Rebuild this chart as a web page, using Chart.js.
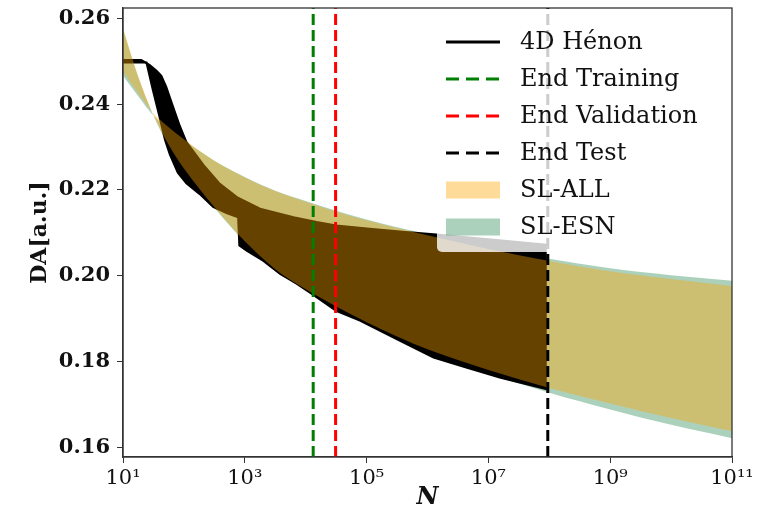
<!DOCTYPE html>
<html>
<head>
<meta charset="utf-8">
<title>DA vs N</title>
<script src="https://cdn.jsdelivr.net/npm/chart.js@4.4.1/dist/chart.umd.min.js"></script>
<style>
  body { margin: 0; background: #fff; }
  canvas { display: block; }
</style>
</head>
<body>
<canvas id="daChart" width="772" height="519"></canvas>
<script>
// x positions are kept as log10(N)
const xTickExps = [1, 3, 5, 7, 9, 11];
const xTickLabels = ['10¹', '10³', '10⁵', '10⁷', '10⁹', '10¹¹'];
const yTicks = [0.16, 0.18, 0.20, 0.22, 0.24, 0.26];
const yLimits = [0.1577, 0.2624];

// 4D Henon: bundle of black curves, kept as its top and bottom envelope
const henonTopExp = [1.0, 1.30, 1.44, 1.55, 1.63, 1.71, 1.82, 1.93, 2.04, 2.32, 2.59, 2.87, 3.25, 3.80, 4.18, 4.50, 5.05, 5.59, 6.15, 7.0, 7.96];
const henonTopDA = [0.2503, 0.2503, 0.2491, 0.2478, 0.2466, 0.2440, 0.2395, 0.2350, 0.2312, 0.2258, 0.2214, 0.2183, 0.2156, 0.2136, 0.2125, 0.2117, 0.2109, 0.2102, 0.2096, 0.2085, 0.2072];
const henonLowExp = [1.0, 1.385, 1.49, 1.60, 1.69, 1.77, 1.90, 2.04, 2.26, 2.48, 2.70, 2.89, 2.91, 3.03, 3.30, 3.58, 3.85, 4.125, 4.50, 4.89, 5.55, 6.10, 6.65, 7.20, 7.96];
const henonLowDA = [0.2497, 0.2497, 0.2433, 0.2370, 0.2316, 0.2282, 0.2240, 0.2215, 0.2190, 0.2160, 0.2146, 0.2136, 0.2070, 0.2058, 0.2035, 0.2004, 0.1981, 0.1955, 0.1918, 0.1895, 0.1848, 0.1809, 0.1785, 0.1762, 0.1735];

// SL bands: two edges each, the edges cross near N = 10^1.5
const bandExp = [1.0, 1.25, 1.5, 1.75, 2.0, 2.5, 3.0, 3.5, 4.0, 4.5, 5.0, 5.5, 6.0, 7.0, 8.0, 9.0, 10.0, 11.0];
const allEdgeA = [0.2577, 0.2465, 0.2375, 0.2305, 0.2250, 0.2160, 0.2080, 0.2015, 0.1968, 0.1928, 0.1891, 0.1858, 0.1828, 0.1780, 0.1738, 0.1702, 0.1668, 0.1637];
const allEdgeB = [0.2476, 0.2425, 0.2378, 0.2346, 0.2318, 0.2268, 0.2229, 0.2197, 0.2172, 0.2149, 0.2129, 0.2111, 0.2094, 0.2062, 0.2034, 0.2010, 0.1992, 0.1976];
const esnEdgeA = [0.2574, 0.2463, 0.2373, 0.2303, 0.2248, 0.2158, 0.2078, 0.2013, 0.1966, 0.1926, 0.1888, 0.1854, 0.1823, 0.1772, 0.1727, 0.1688, 0.1652, 0.1621];
const esnEdgeB = [0.2466, 0.2418, 0.2373, 0.2343, 0.2316, 0.2268, 0.2230, 0.2198, 0.2174, 0.2151, 0.2131, 0.2113, 0.2097, 0.2066, 0.2039, 0.2017, 0.2001, 0.1988];

// end of training / validation / test, log10(N)
const splitLabels = ['End Training', 'End Validation', 'End Test'];
const splitExps = [4.123, 4.491, 7.975];
const splitColors = ['#008000', '#ff0000', '#000000'];

const legendOrder = ['4D Hénon', 'End Training', 'End Validation', 'End Test', 'SL-ALL', 'SL-ESN'];

const ALL_COLOR = 'rgba(255, 165, 0, 0.4)';
const ESN_COLOR = 'rgba(46, 139, 87, 0.4)';

function pts(exps, vals) {
    return exps.map((e, i) => ({ x: Math.pow(10, e), y: vals[i] }));
}

const splitSets = splitExps.map((e, i) => ({
    label: splitLabels[i],
    data: pts([e, e], yLimits),
    borderColor: splitColors[i],
    borderWidth: 3,
    borderDash: [11, 5],
    pointRadius: 0,
    fill: false
}));

const datasets = [
    ...splitSets,
    {
        label: 'SL-ALL',
        data: pts(bandExp, allEdgeB),
        borderWidth: 0,
        borderColor: 'rgba(0,0,0,0)',
        backgroundColor: ALL_COLOR,
        pointRadius: 0,
        cubicInterpolationMode: 'monotone',
        fill: '+1'
    },
    {
        data: pts(bandExp, allEdgeA),
        borderWidth: 0,
        borderColor: 'rgba(0,0,0,0)',
        pointRadius: 0,
        cubicInterpolationMode: 'monotone',
        fill: false
    },
    {
        label: '4D Hénon',
        data: pts(henonTopExp, henonTopDA),
        borderColor: '#000',
        borderWidth: 2,
        backgroundColor: '#000',
        pointRadius: 0,
        fill: '+1'
    },
    {
        data: pts(henonLowExp, henonLowDA),
        borderColor: '#000',
        borderWidth: 2,
        pointRadius: 0,
        fill: false
    },
    {
        label: 'SL-ESN',
        data: pts(bandExp, esnEdgeB),
        borderWidth: 0,
        borderColor: 'rgba(0,0,0,0)',
        backgroundColor: ESN_COLOR,
        pointRadius: 0,
        cubicInterpolationMode: 'monotone',
        fill: '+1'
    },
    {
        data: pts(bandExp, esnEdgeA),
        borderWidth: 0,
        borderColor: 'rgba(0,0,0,0)',
        pointRadius: 0,
        cubicInterpolationMode: 'monotone',
        fill: false
    }
];

// box around the plot area
const frame = {
    id: 'frame',
    afterDatasetsDraw(chart) {
        const a = chart.chartArea;
        const ctx = chart.ctx;
        ctx.save();
        ctx.strokeStyle = '#333';
        ctx.lineWidth = 1.3;
        ctx.strokeRect(a.left, a.top, a.right - a.left, a.bottom - a.top);
        ctx.restore();
    }
};

// legend drawn inside the plot, upper right, like matplotlib
const insideLegend = {
    id: 'insideLegend',
    afterDraw(chart) {
        const ctx = chart.ctx;
        const a = chart.chartArea;
        const x0 = a.left + 314;
        const y0 = a.top + 5;
        ctx.save();
        ctx.fillStyle = 'rgba(255, 255, 255, 0.8)';
        ctx.beginPath();
        ctx.roundRect(x0, y0, 282, 239, 5);
        ctx.fill();
        ctx.font = '24px "DejaVu Serif"';
        ctx.textBaseline = 'middle';
        ctx.fillStyle = '#111';
        legendOrder.forEach((name, i) => {
            const ds = chart.data.datasets.find(d => d.label === name);
            const y = y0 + 29 + i * 37;
            const hx = x0 + 9;
            if (ds.fill === '+1' && ds.borderWidth === 0) {
                ctx.fillStyle = ds.backgroundColor;
                ctx.fillRect(hx, y - 8.5, 54, 17);
            } else {
                ctx.strokeStyle = ds.borderColor;
                ctx.lineWidth = 3;
                ctx.setLineDash(ds.borderDash ? [13, 7] : []);
                ctx.beginPath();
                ctx.moveTo(hx, y);
                ctx.lineTo(hx + 54, y);
                ctx.stroke();
                ctx.setLineDash([]);
            }
            ctx.fillStyle = '#111';
            ctx.fillText(name, x0 + 83, y + 1);
        });
        ctx.restore();
    }
};

const ctx = document.getElementById('daChart').getContext('2d');
new Chart(ctx, {
    type: 'line',
    data: { datasets: datasets },
    options: {
        responsive: false,
        animation: false,
        events: [],
        layout: { padding: { left: 0, right: 40, top: 8, bottom: 0 } },
        plugins: {
            legend: { display: false },
            tooltip: { enabled: false }
        },
        scales: {
            x: {
                type: 'logarithmic',
                min: 10,
                max: 1e11,
                afterBuildTicks: axis => {
                    axis.ticks = xTickExps.map(e => ({ value: Math.pow(10, e) }));
                },
                afterFit: axis => {
                    axis.height = 62;
                    axis.paddingLeft = 0;
                    axis.paddingRight = 0;
                },
                grid: { drawOnChartArea: false, tickLength: 6, tickColor: '#333' },
                border: { color: '#333', width: 1.3 },
                ticks: {
                    autoSkip: false,
                    maxRotation: 0,
                    padding: 3,
                    color: '#111',
                    font: { family: 'DejaVu Serif', size: 21 },
                    callback: (value, index) => xTickLabels[index]
                },
                title: {
                    display: true,
                    text: 'N',
                    color: '#111',
                    font: { family: 'DejaVu Serif', size: 24, weight: 'bold', style: 'italic' },
                    padding: { top: 0, bottom: 7 }
                }
            },
            y: {
                min: yLimits[0],
                max: yLimits[1],
                afterBuildTicks: axis => {
                    axis.ticks = yTicks.map(v => ({ value: v }));
                },
                afterFit: axis => {
                    axis.width = 123;
                    axis.paddingTop = 0;
                    axis.paddingBottom = 0;
                },
                grid: { drawOnChartArea: false, tickLength: 6, tickColor: '#333' },
                border: { color: '#333', width: 1.3 },
                ticks: {
                    padding: 7,
                    color: '#111',
                    font: { family: 'DejaVu Serif', size: 21, weight: 'bold' },
                    callback: value => value.toFixed(2)
                },
                title: {
                    display: true,
                    text: 'DA[a.u.]',
                    color: '#111',
                    font: { family: 'DejaVu Serif', size: 22, weight: 'bold' },
                    padding: { top: 27, bottom: 0 }
                }
            }
        }
    },
    plugins: [frame, insideLegend]
});
</script>
</body>
</html>
